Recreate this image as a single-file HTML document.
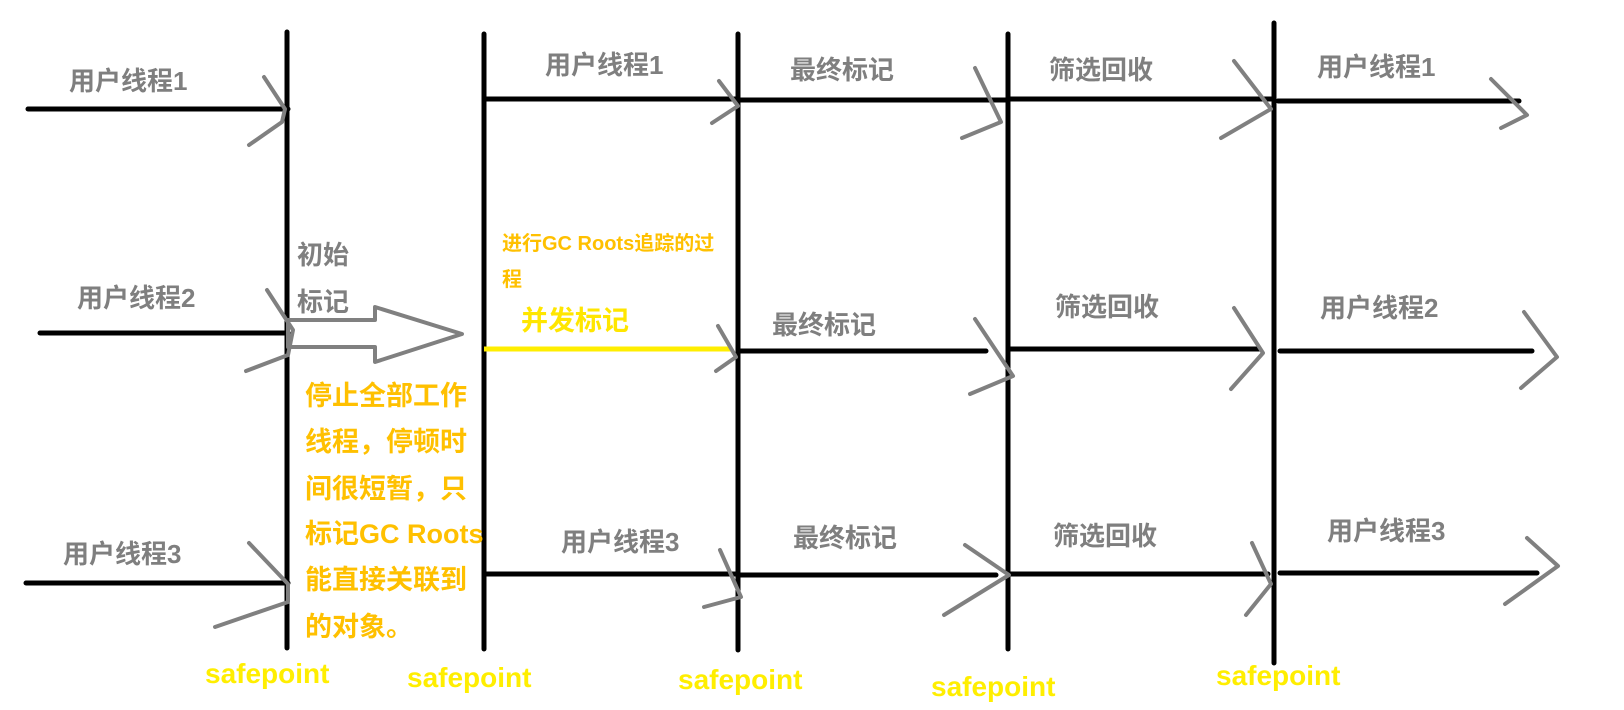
<!DOCTYPE html>
<html><head><meta charset="utf-8"><style>
html,body{margin:0;padding:0;background:#fff;}
svg{display:block;}
text{font-family:"Liberation Sans","Noto Sans CJK SC",sans-serif;font-weight:bold;}
.g{fill:#7f7f7f;font-size:26px;}
.y{fill:#ffc000;font-size:27px;}
.s{fill:#ffee00;font-size:28px;}
</style></head><body>
<svg width="1624" height="710" viewBox="0 0 1624 710" xmlns="http://www.w3.org/2000/svg">
<g stroke="#000" stroke-width="5" stroke-linecap="round">
<line x1="287" y1="32" x2="287" y2="648"/>
<line x1="484" y1="34" x2="484" y2="649"/>
<line x1="738" y1="34" x2="738" y2="650"/>
<line x1="1008" y1="34" x2="1008" y2="649"/>
<line x1="1274" y1="23" x2="1274" y2="663"/>
<line x1="28" y1="109" x2="288" y2="109"/>
<line x1="484" y1="99" x2="738" y2="99"/>
<line x1="738" y1="100" x2="1008" y2="100"/>
<line x1="1008" y1="99" x2="1274" y2="99"/>
<line x1="1278" y1="101" x2="1519" y2="101"/>
<line x1="40" y1="333" x2="288" y2="333"/>
<line x1="738" y1="351" x2="986" y2="351"/>
<line x1="1008" y1="349" x2="1259" y2="349"/>
<line x1="1280" y1="351" x2="1532" y2="351"/>
<line x1="26" y1="583" x2="288" y2="583"/>
<line x1="484" y1="574" x2="738" y2="574"/>
<line x1="738" y1="575" x2="996" y2="575"/>
<line x1="1008" y1="574" x2="1268" y2="574"/>
<line x1="1280" y1="573" x2="1537" y2="573"/>
</g>
<line x1="484" y1="349" x2="731" y2="349" stroke="#ffee00" stroke-width="5"/>
<g fill="none" stroke="#808080" stroke-width="4" stroke-linejoin="round" stroke-linecap="round">
<polyline points="264,77 285,109 282,122 249,145"/>
<polyline points="719,81 738,106 712,123"/>
<polyline points="975,68 1001,122 962,138"/>
<polyline points="1234,61 1271,109 1221,138"/>
<polyline points="1491,79 1527,115 1501,128"/>
<polyline points="267,290 293,330 288,355 246,371"/>
<polyline points="718,326 736,357 716,371"/>
<polyline points="975,319 1013,376 970,394"/>
<polyline points="1234,308 1263,353 1231,389"/>
<polyline points="1524,312 1557,357 1521,388"/>
<polyline points="249,543 288,584 288,602 215,627"/>
<polyline points="720,550 741,597 704,607"/>
<polyline points="965,545 1009,575 944,615"/>
<polyline points="1252,543 1271,584 1246,615"/>
<polyline points="1527,538 1558,566 1505,604"/>
<polygon points="288,320 375,320 375,307 462,334 375,362 375,347 288,347"/>
</g>
<text class="g" x="69" y="90">用户线程1</text>
<text class="g" x="77" y="307">用户线程2</text>
<text class="g" x="63" y="563">用户线程3</text>
<text class="g" x="297" y="264">初始</text>
<text class="g" x="297" y="311">标记</text>
<text class="g" x="545" y="74">用户线程1</text>
<text class="g" x="561" y="551">用户线程3</text>
<text class="g" x="790" y="79">最终标记</text>
<text class="g" x="772" y="334">最终标记</text>
<text class="g" x="793" y="547">最终标记</text>
<text class="g" x="1049" y="79">筛选回收</text>
<text class="g" x="1055" y="316">筛选回收</text>
<text class="g" x="1053" y="545">筛选回收</text>
<text class="g" x="1317" y="76">用户线程1</text>
<text class="g" x="1320" y="317">用户线程2</text>
<text class="g" x="1327" y="540">用户线程3</text>
<text x="502" y="250" style="fill:#ffc000;font-size:20px">进行GC Roots追踪的过</text>
<text x="502" y="286" style="fill:#ffc000;font-size:20px">程</text>
<text x="521" y="330" style="fill:#ffe600;font-size:27px">并发标记</text>
<text class="y" x="305" y="405">停止全部工作</text>
<text class="y" x="305" y="451">线程，停顿时</text>
<text class="y" x="305" y="498">间很短暂，只</text>
<text class="y" x="305" y="543">标记GC Roots</text>
<text class="y" x="305" y="589">能直接关联到</text>
<text class="y" x="305" y="636">的对象。</text>
<text class="s" x="205" y="683">safepoint</text>
<text class="s" x="407" y="687">safepoint</text>
<text class="s" x="678" y="689">safepoint</text>
<text class="s" x="931" y="696">safepoint</text>
<text class="s" x="1216" y="685">safepoint</text>
</svg>
</body></html>
